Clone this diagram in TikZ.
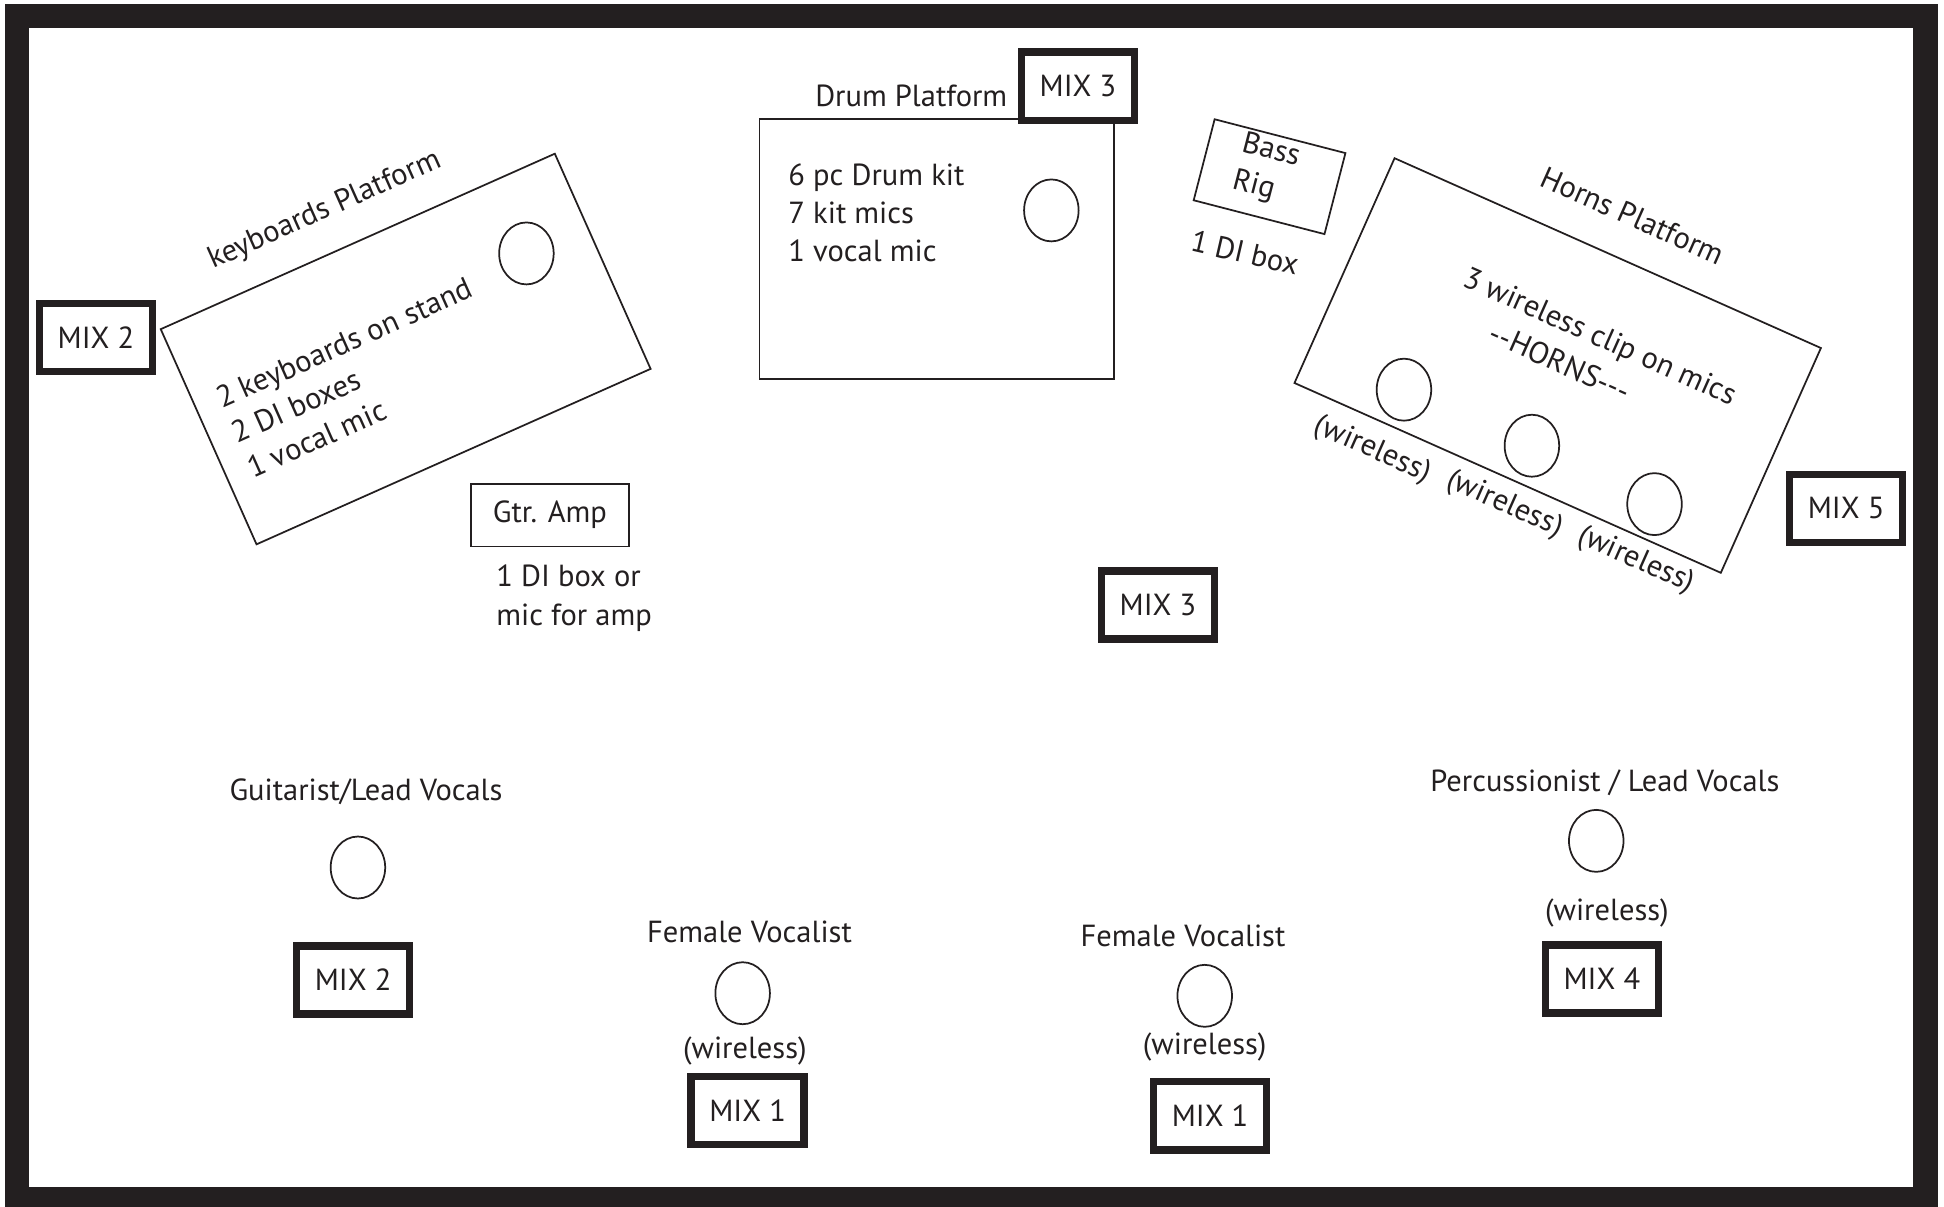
\documentclass[tikz,border=0pt]{standalone}
\usepackage{fontspec}
\setmainfont{PT Sans}
\usepackage{tikz}
\usetikzlibrary{positioning,shapes.geometric}
\definecolor{ink}{HTML}{231F20}

\begin{document}
\begin{tikzpicture}[x=0.02cm, y=-0.02cm,
                every node/.style={font=\fontsize{14}{17.5}\selectfont, text=ink},
                mix/.style={draw=ink, fill=white, line width=0.12cm, minimum width=1.82cm, minimum height=1.1cm, inner sep=0pt},
                mic/.style={draw=ink, ellipse, line width=0.8pt, minimum width=0.88cm, minimum height=1cm, inner sep=0pt},
                platform/.style={draw=ink, line width=0.8pt, inner sep=0pt}]
                \useasboundingbox (0,0) rectangle (1568,973.5);
                \draw[ink, line width=0.39cm] (13.7,13.2) rectangle (1553,966.9);

                \node[platform, minimum width=6.96cm, minimum height=3.8cm, rotate=24](keys) at (327.2,281.5){};
                \node[rotate=24](keyslabel) at (262,170){keyboards Platform};
                \node[mic](keysmic) at (424.6,204.4){};
                \node[rotate=24, anchor=west, align=left, inner sep=0pt](keysgear) at (188,350){2 keyboards on stand\\2 DI boxes\\1 vocal mic};
                \node[mix](mixkeys) at (77.4,272.3){MIX 2};

                \node[platform, minimum width=5.72cm, minimum height=4.19cm](drums) at (755.5,200.9){};
                \node(drumslabel) at (735,77){Drum Platform};
                \node[anchor=west, align=left, inner sep=0pt](drumsgear) at (635.6,171.5){6 pc Drum kit\\7 kit mics\\1 vocal mic};
                \node[mic](drumsmic) at (848,169.7){};
                \node[mix](mixdrums) at (869.5,69.5){MIX 3};

                \node[platform, minimum width=2.18cm, minimum height=1.35cm, rotate=-14.5](bass) at (1024,142.5){};
                \node[rotate=-14.5, anchor=west, align=left, inner sep=0pt](basslabel) at (998,131){Bass\\Rig};
                \node[rotate=-13](bassdi) at (1004.2,203.7){1 DI box};

                \node[platform, minimum width=7.53cm, minimum height=3.97cm, rotate=-24](horns) at (1256.4,294.8){};
                \node[rotate=-24](hornslabel) at (1317,174){Horns Platform};
                \node[rotate=-24](hornsmics) at (1290,273){3 wireless clip on mics};
                \node[rotate=-24](hornstag) at (1258.5,292){-{}-HORNS-{}-{}-};
                \node[mic](hornmica) at (1132.4,314.3){};
                \node[mic](hornmicb) at (1235.6,359.5){};
                \node[mic](hornmicc) at (1334.5,406.6){};
                \node[rotate=-24](hornwla) at (1107,363){(wireless)};
                \node[rotate=-24](hornwlb) at (1213.5,407){(wireless)};
                \node[rotate=-24](hornwlc) at (1319.7,452){(wireless)};
                \node[mix](mixhorns) at (1489,410){MIX 5};

                \node[platform, minimum width=2.54cm, minimum height=1.01cm](amp) at (443.6,415.5){Gtr. Amp};
                \node[anchor=west, align=left, inner sep=0pt](ampdi) at (400,482.5){1 DI box or\\mic for amp};

                \node[mix](mixcentre) at (934,488){MIX 3};

                \node(guitarist) at (295.2,638.5){Guitarist/Lead Vocals};
                \node[mic](guitarmic) at (288.7,699.7){};
                \node[mix](mixguitar) at (284.8,790.5){MIX 2};

                \node(vocalista) at (604.5,751.5){Female Vocalist};
                \node[mic](vocalmica) at (599,801.1){};
                \node(vocalwla) at (600.8,847.6){(wireless)};
                \node[mix](mixvocala) at (603,895.8){MIX 1};

                \node(vocalistb) at (954.2,754.8){Female Vocalist};
                \node[mic](vocalmicb) at (971.7,803.2){};
                \node(vocalwlb) at (971.7,844.2){(wireless)};
                \node[mix](mixvocalb) at (976,899.9){MIX 1};

                \node(percussionist) at (1294.5,631.2){Percussionist / Lead Vocals};
                \node[mic](percmic) at (1287.5,678.2){};
                \node(percwl) at (1296.1,736.3){(wireless)};
                \node[mix](mixperc) at (1292,789.6){MIX 4};
\end{tikzpicture}
\end{document}
